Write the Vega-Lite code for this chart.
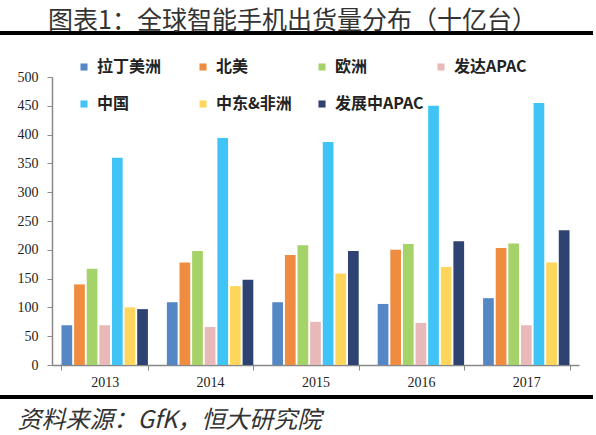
{
  "$schema": "https://vega.github.io/schema/vega-lite/v6.json",
  "width": 527,
  "height": 288,
  "autosize": {"type": "none"},
  "padding": {"left": 52, "top": 77, "right": 17, "bottom": 70},
  "background": "white",
  "title": {
    "text": "图表1：全球智能手机出货量分布（十亿台）",
    "anchor": "start",
    "frame": "group",
    "dx": -4,
    "dy": 7,
    "offset": 4,
    "fontSize": 25,
    "font": "Noto Sans CJK SC",
    "fontWeight": "normal",
    "color": "#333333"
  },
  "config": {"view": {"stroke": null}},
  "data": {
    "values": [
      {"year": "2013", "region": "拉丁美洲", "value": 69},
      {"year": "2013", "region": "北美", "value": 140},
      {"year": "2013", "region": "欧洲", "value": 167},
      {"year": "2013", "region": "发达APAC", "value": 69},
      {"year": "2013", "region": "中国", "value": 360},
      {"year": "2013", "region": "中东&非洲", "value": 100},
      {"year": "2013", "region": "发展中APAC", "value": 97},
      {"year": "2014", "region": "拉丁美洲", "value": 109},
      {"year": "2014", "region": "北美", "value": 178},
      {"year": "2014", "region": "欧洲", "value": 198},
      {"year": "2014", "region": "发达APAC", "value": 66},
      {"year": "2014", "region": "中国", "value": 394},
      {"year": "2014", "region": "中东&非洲", "value": 137},
      {"year": "2014", "region": "发展中APAC", "value": 148},
      {"year": "2015", "region": "拉丁美洲", "value": 109},
      {"year": "2015", "region": "北美", "value": 191},
      {"year": "2015", "region": "欧洲", "value": 208},
      {"year": "2015", "region": "发达APAC", "value": 75},
      {"year": "2015", "region": "中国", "value": 387},
      {"year": "2015", "region": "中东&非洲", "value": 159},
      {"year": "2015", "region": "发展中APAC", "value": 198},
      {"year": "2016", "region": "拉丁美洲", "value": 106},
      {"year": "2016", "region": "北美", "value": 200},
      {"year": "2016", "region": "欧洲", "value": 210},
      {"year": "2016", "region": "发达APAC", "value": 73},
      {"year": "2016", "region": "中国", "value": 450},
      {"year": "2016", "region": "中东&非洲", "value": 170},
      {"year": "2016", "region": "发展中APAC", "value": 215},
      {"year": "2017", "region": "拉丁美洲", "value": 116},
      {"year": "2017", "region": "北美", "value": 203},
      {"year": "2017", "region": "欧洲", "value": 211},
      {"year": "2017", "region": "发达APAC", "value": 69},
      {"year": "2017", "region": "中国", "value": 455},
      {"year": "2017", "region": "中东&非洲", "value": 178},
      {"year": "2017", "region": "发展中APAC", "value": 234}
    ]
  },
  "layer": [
    {
      "mark": {"type": "bar"},
      "encoding": {
        "x": {
          "field": "year",
          "type": "nominal",
          "scale": {"paddingInner": 0.18, "paddingOuter": 0.09},
          "axis": {
            "labelAngle": 0,
            "tickBand": "extent",
            "labelFont": "Liberation Serif",
            "labelFontSize": 14,
            "labelColor": "#222222",
            "tickSize": 5,
            "tickColor": "#888888",
            "domainColor": "#888888",
            "domainWidth": 1.5,
            "labelPadding": 5,
            "title": "资料来源：GfK，恒大研究院",
            "titleFont": "Noto Sans CJK SC",
            "titleFontStyle": "italic",
            "titleFontWeight": "normal",
            "titleFontSize": 24,
            "titleColor": "#333333",
            "titleAnchor": "start",
            "titleAlign": "left",
            "titleX": -35,
            "titleY": 55,
            "titleBaseline": "middle"
          }
        },
        "xOffset": {
          "field": "region",
          "type": "nominal",
          "scale": {
            "domain": ["拉丁美洲", "北美", "欧洲", "发达APAC", "中国", "中东&非洲", "发展中APAC"],
            "paddingInner": 0.15
          }
        },
        "y": {
          "field": "value",
          "type": "quantitative",
          "scale": {"domain": [0, 500], "nice": false},
          "axis": {
            "title": null,
            "values": [0, 50, 100, 150, 200, 250, 300, 350, 400, 450, 500],
            "labelFont": "Liberation Serif",
            "labelFontSize": 14,
            "labelColor": "#222222",
            "tickSize": 5,
            "tickColor": "#888888",
            "domainColor": "#888888",
            "domainWidth": 1.5,
            "labelPadding": 9,
            "grid": false
          }
        },
        "color": {
          "field": "region",
          "type": "nominal",
          "scale": {
            "domain": ["拉丁美洲", "北美", "欧洲", "发达APAC", "中国", "中东&非洲", "发展中APAC"],
            "range": ["#5587C4", "#F08C40", "#A6D26A", "#E8B9B8", "#40C4F5", "#FFD65C", "#2F4372"]
          },
          "legend": {
            "orient": "none",
            "legendX": 24,
            "legendY": -18,
            "direction": "horizontal",
            "columns": 4,
            "gridAlign": "all",
            "symbolType": "square",
            "symbolSize": 50,
            "symbolStrokeWidth": 0,
            "labelFontSize": 16,
            "labelFont": "Noto Sans CJK SC",
            "labelFontWeight": "bold",
            "labelColor": "#222222",
            "labelOffset": 5,
            "columnPadding": 9,
            "rowPadding": 21,
            "title": null
          }
        }
      }
    },
    {
      "data": {"values": [{}]},
      "mark": {"type": "rule", "color": "black", "strokeWidth": 4},
      "encoding": {"x": {"value": -52}, "x2": {"value": 541}, "y": {"value": -44}}
    },
    {
      "data": {"values": [{}]},
      "mark": {"type": "rule", "color": "black", "strokeWidth": 4},
      "encoding": {"x": {"value": -52}, "x2": {"value": 541}, "y": {"value": 320}}
    }
  ]
}
